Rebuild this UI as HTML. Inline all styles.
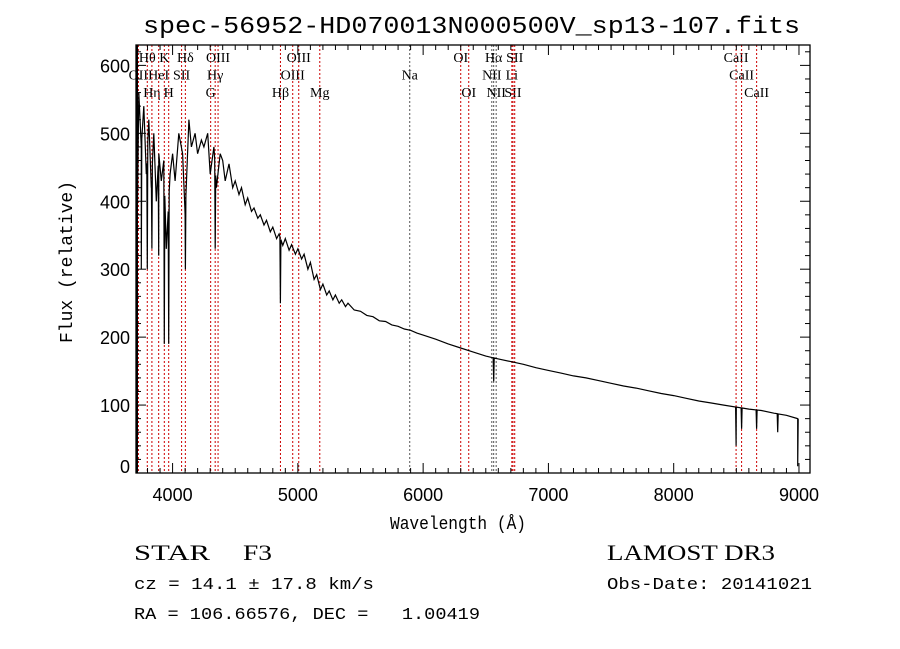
<!DOCTYPE html>
<html><head><meta charset="utf-8"><style>
body{margin:0;background:#fff;width:900px;height:649px;overflow:hidden}
svg{display:block}
text{white-space:pre}
.mono{font-family:"Liberation Mono",monospace}
.ser{font-family:"Liberation Serif",serif}
</style></head><body>
<svg id="chart" width="900" height="649">
<text x="143" y="33" textLength="657" lengthAdjust="spacingAndGlyphs" class="mono" font-size="24">spec-56952-HD070013N000500V_sp13-107.fits</text>
<g id="plot"></g>
<text x="390" y="529" textLength="136" lengthAdjust="spacingAndGlyphs" class="mono" font-size="18">Wavelength (Å)</text>
<text transform="translate(72,262) rotate(-90)" text-anchor="middle" class="mono" font-size="18">Flux (relative)</text>
<text x="134" y="560" textLength="76" lengthAdjust="spacingAndGlyphs" class="ser" font-size="22">STAR</text>
<text x="243" y="560" textLength="29" lengthAdjust="spacingAndGlyphs" class="ser" font-size="22">F3</text>
<text x="134" y="589" textLength="240" lengthAdjust="spacingAndGlyphs" class="mono" font-size="17">cz = 14.1 ± 17.8 km/s</text>
<text x="134" y="619" textLength="346" lengthAdjust="spacingAndGlyphs" class="mono" font-size="17">RA = 106.66576, DEC =   1.00419</text>
<text x="607" y="560" textLength="168" lengthAdjust="spacingAndGlyphs" class="ser" font-size="22">LAMOST DR3</text>
<text x="607" y="589" textLength="205" lengthAdjust="spacingAndGlyphs" class="mono" font-size="17">Obs-Date: 20141021</text>
</svg>
<script>
const waveKnots=[3710,3730,3750,3770,3790,3810,3830,3850,3870,3890,3910,3930,3950,3980,4000,4020,4050,4080,4100,4130,4150,4180,4200,4230,4250,4280,4300,4330,4350,4380,4400,4420,4450,4480,4500,4530,4550,4580,4600,4630,4650,4680,4700,4730,4750,4780,4800,4830,4850,4880,4900,4930,4950,4980,5000,5030,5050,5080,5100,5130,5150,5180,5200,5230,5250,5280,5300,5330,5350,5380,5400,5450,5500,5550,5600,5650,5700,5750,5800,5850,5900,5950,6000,6100,6200,6300,6400,6500,6600,6700,6800,6900,7000,7100,7200,7300,7400,7500,7600,7700,7800,7900,8000,8100,8200,8300,8400,8500,8600,8700,8800,8900,8990];
const fluxKnots=[250,560,480,540,440,520,420,500,400,470,430,460,330,440,470,430,500,470,380,520,480,500,470,490,480,500,440,480,420,470,460,430,455,420,430,410,420,395,405,385,390,375,380,365,372,355,362,345,352,335,345,328,336,322,330,315,322,300,310,285,292,270,278,262,268,255,262,250,255,245,250,240,238,232,230,224,223,218,216,212,210,206,203,197,190,184,178,172,168,164,160,155,151,147,143,140,136,132,128,125,121,117,114,110,106,103,100,97,94,92,88,85,80];
const lineWaves=[3750,3798,3835,3889,3934,3969,4102,4340,4861,6563,8498,8542,8662,8830,8990];
const lineDepths=[300,300,330,320,190,190,300,330,250,135,40,65,65,60,10];
const markWaves=[3727,3798,3835,3889,3934,3969,4072,4102,4304,4340,4363,4861,4959,5007,5175,5893,6300,6364,6548,6563,6583,6708,6717,6731,8498,8542,8662];
const markLabels=["OII","Hθ","Hη","HeI","K","H","SII","Hδ","G","Hγ","OIII","Hβ","OIII","OIII","Mg","Na","OI","OI","NII","Hα","NII","Li","SII","SII","CaII","CaII","CaII"];
const markRows=[1,0,2,1,0,2,1,0,2,1,0,2,1,0,2,1,0,2,1,0,2,1,2,0,0,1,2];
const markBlack=[5893,6548,6563,6583];
const xTicks=[4000,5000,6000,7000,8000,9000];
const yTicks=[0,100,200,300,400,500,600];

const L=136,R=810,T=45,B=473,X0=3708,X1=9088,Y0=0,Y1=630;
const sx=w=>L+(w-X0)/(X1-X0)*(R-L);
const sy=f=>B-(f-Y0)/(Y1-Y0)*(B-T);
const NS="http://www.w3.org/2000/svg";
const g=document.getElementById('plot');
function mk(t,a){const e=document.createElementNS(NS,t);for(const k in a)e.setAttribute(k,a[k]);g.appendChild(e);return e;}
markWaves.forEach((w,i)=>{
  const ln=mk('line',{x1:sx(w),x2:sx(w),y1:T,y2:B,stroke:markBlack.includes(w)?'#555':'#c00',"stroke-width":1,"stroke-dasharray":"2,2"});
  
  
  const tx=mk('text',{x:sx(w),y:62+markRows[i]*17.5,"text-anchor":"middle","font-size":14,"font-family":"Liberation Serif,serif"});
  tx.textContent=markLabels[i];
  
  
});
const pts=waveKnots.map((w,i)=>[w,fluxKnots[i]]);
lineWaves.forEach((w,i)=>{pts.push([w-4,null]);pts.push([w,lineDepths[i]]);pts.push([w+4,null]);});
pts.sort((a,b)=>a[0]-b[0]);
function interp(w){for(let i=0;i<waveKnots.length-1;i++){if(w>=waveKnots[i]&&w<=waveKnots[i+1]){const t=(w-waveKnots[i])/(waveKnots[i+1]-waveKnots[i]);return fluxKnots[i]+t*(fluxKnots[i+1]-fluxKnots[i]);}}return fluxKnots[fluxKnots.length-1];}
const d=pts.map((p,i)=>(i?'L':'M')+sx(p[0]).toFixed(1)+','+sy(p[1]===null?interp(p[0]):p[1]).toFixed(1)).join('');
const sp=mk('path',{d:d,fill:'none',stroke:'#000',"stroke-width":1.2});


const fr=mk('rect',{x:L,y:T,width:R-L,height:B-T,fill:'none',stroke:'#000',"stroke-width":1.3});


mk('line',{x1:L+1,x2:L+1,y1:T,y2:B,stroke:'#000',"stroke-width":2});
for(let w=3800;w<=9000;w+=100){const maj=w%1000===0;const x=sx(w);
  mk('line',{x1:x,x2:x,y1:B,y2:B-(maj?10:5),stroke:'#000'});mk('line',{x1:x,x2:x,y1:T,y2:T+(maj?10:5),stroke:'#000'});}
xTicks.forEach(w=>{const t=mk('text',{x:sx(w),y:B+28,"text-anchor":"middle","font-size":18,"font-family":"Liberation Sans,sans-serif"});t.textContent=w;
  
  });
for(let f=0;f<=620;f+=20){const maj=f%100===0;const y=sy(f);
  mk('line',{x1:L,x2:L+(maj?10:5),y1:y,y2:y,stroke:'#000'});mk('line',{x1:R,x2:R-(maj?10:5),y1:y,y2:y,stroke:'#000'});}
yTicks.forEach(f=>{const t=mk('text',{x:L-6,y:Math.min(sy(f)+7,B),"text-anchor":"end","font-size":18,"font-family":"Liberation Sans,sans-serif"});t.textContent=f;
  
  });
</script>
</body></html>
